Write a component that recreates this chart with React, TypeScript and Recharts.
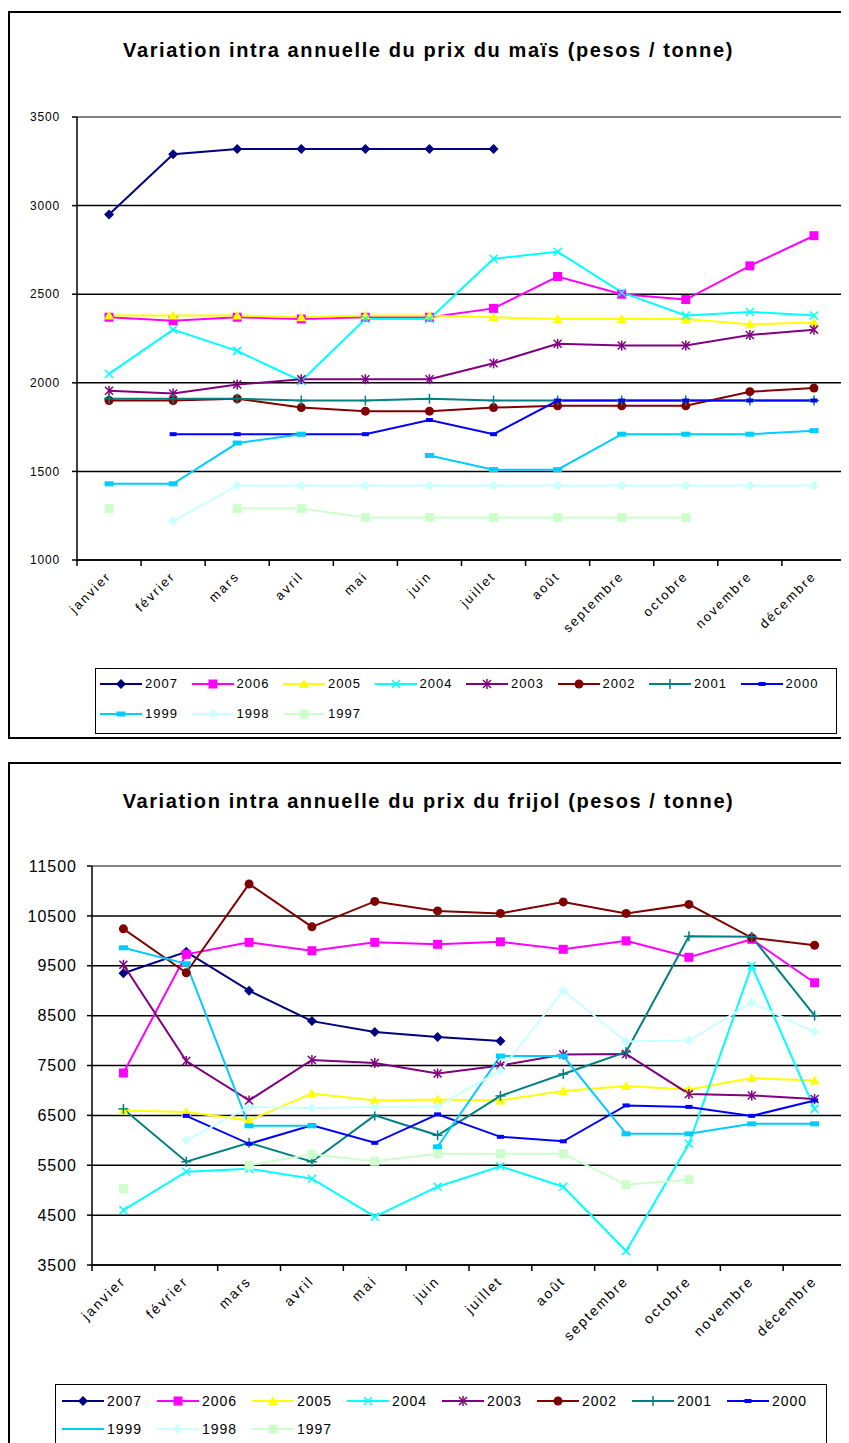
import React from "react";
import {
  LineChart,
  Line,
  XAxis,
  YAxis,
  CartesianGrid,
  ReferenceLine,
} from "recharts";

const mois = [
  "janvier", "février", "mars", "avril", "mai", "juin",
  "juillet", "août", "septembre", "octobre", "novembre", "décembre",
];

const annees = ["2007", "2006", "2005", "2004", "2003", "2002", "2001", "2000", "1999", "1998", "1997"];
const couleurs = ["#000080", "#FF00FF", "#FFFF00", "#00FFFF", "#800080", "#800000", "#008080", "#0000FF", "#00CCFF", "#CCFFFF", "#CCFFCC"];
const formes = ["diamond", "square", "triangle", "x", "star", "circle", "plus", "dash", "bar", "diamond", "square"];

const _ = null;

// maïs, pesos / tonne
const mais2007 = [2950, 3290, 3320, 3320, 3320, 3320, 3320, _, _, _, _, _];
const mais2006 = [2370, 2350, 2370, 2360, 2370, 2370, 2420, 2600, 2500, 2470, 2660, 2830];
const mais2005 = [2380, 2380, 2380, 2370, 2380, 2380, 2370, 2360, 2360, 2360, 2330, 2340];
const mais2004 = [2050, 2300, 2180, 2010, 2360, 2360, 2700, 2740, 2510, 2380, 2400, 2380];
const mais2003 = [1955, 1940, 1990, 2020, 2020, 2020, 2110, 2220, 2210, 2210, 2270, 2300];
const mais2002 = [1900, 1900, 1910, 1860, 1840, 1840, 1860, 1870, 1870, 1870, 1950, 1970];
const mais2001 = [1910, 1910, 1910, 1900, 1900, 1910, 1900, 1900, 1900, 1900, 1900, 1900];
const mais2000 = [_, 1710, 1710, 1710, 1710, 1790, 1710, 1900, 1900, 1900, 1900, 1900];
const mais1999 = [1430, 1430, 1660, 1710, _, 1590, 1510, 1510, 1710, 1710, 1710, 1730];
const mais1998 = [_, 1220, 1420, 1420, 1420, 1420, 1420, 1420, 1420, 1420, 1420, 1420];
const mais1997 = [1290, _, 1290, 1290, 1240, 1240, 1240, 1240, 1240, 1240, _, _];
const maisTicks = [1000, 1500, 2000, 2500, 3000, 3500];

// frijol, pesos / tonne
const frijol2007 = [9350, 9780, 9000, 8390, 8170, 8070, 7990, _, _, _, _, _];
const frijol2006 = [7350, 9730, 9970, 9800, 9970, 9930, 9980, 9830, 10000, 9670, 10030, 9160];
const frijol2005 = [6600, 6570, 6400, 6940, 6800, 6820, 6800, 6990, 7090, 7020, 7250, 7200];
const frijol2004 = [4600, 5370, 5430, 5230, 4470, 5070, 5480, 5070, 3780, 5930, 9500, 6630];
const frijol2003 = [9520, 7590, 6800, 7610, 7550, 7340, 7500, 7720, 7730, 6930, 6900, 6830];
const frijol2002 = [10240, 9360, 11140, 10280, 10790, 10600, 10550, 10780, 10550, 10730, 10060, 9910];
const frijol2001 = [6630, 5570, 5950, 5570, 6500, 6100, 6890, 7330, 7770, 10090, 10080, 8500];
const frijol2000 = [_, 6490, 5930, 6300, 5950, 6520, 6070, 5980, 6700, 6670, 6490, 6800];
const frijol1999 = [9860, 9540, 6290, 6290, _, 5870, 7690, 7690, 6130, 6130, 6330, 6330];
const frijol1998 = [_, 6000, 6670, 6650, 6670, 6680, 7400, 9000, 7980, 8000, 8760, 8170];
const frijol1997 = [5030, _, 5500, 5720, 5580, 5730, 5730, 5730, 5110, 5210, _, _];
const frijolTicks = [3500, 4500, 5500, 6500, 7500, 8500, 9500, 10500, 11500];

const maisSeries = [mais2007, mais2006, mais2005, mais2004, mais2003, mais2002, mais2001, mais2000, mais1999, mais1998, mais1997];
const frijolSeries = [frijol2007, frijol2006, frijol2005, frijol2004, frijol2003, frijol2002, frijol2001, frijol2000, frijol1999, frijol1998, frijol1997];

const FONT = "'Liberation Sans', Arial, sans-serif";

function buildRows(series: (number | null)[][]) {
  return mois.map((m, i) => {
    const row: Record<string, any> = { mois: m };
    annees.forEach((a, k) => {
      row["y" + a] = series[k][i];
    });
    return row;
  });
}

function Marker({ cx, cy, shape, color }: any) {
  if (cx == null || cy == null || isNaN(cy)) return <g />;
  switch (shape) {
    case "diamond":
      return <polygon points={`${cx},${cy - 5} ${cx + 5},${cy} ${cx},${cy + 5} ${cx - 5},${cy}`} fill={color} />;
    case "square":
      return <rect x={cx - 4.5} y={cy - 4.5} width={9} height={9} fill={color} />;
    case "triangle":
      return <polygon points={`${cx},${cy - 5} ${cx + 5},${cy + 4} ${cx - 5},${cy + 4}`} fill={color} />;
    case "x":
      return (
        <g stroke={color} strokeWidth={1.5}>
          <line x1={cx - 4} y1={cy - 4} x2={cx + 4} y2={cy + 4} />
          <line x1={cx - 4} y1={cy + 4} x2={cx + 4} y2={cy - 4} />
        </g>
      );
    case "star":
      return (
        <g stroke={color} strokeWidth={1.5}>
          <line x1={cx - 4} y1={cy - 4} x2={cx + 4} y2={cy + 4} />
          <line x1={cx - 4} y1={cy + 4} x2={cx + 4} y2={cy - 4} />
          <line x1={cx} y1={cy - 5} x2={cx} y2={cy + 5} />
        </g>
      );
    case "circle":
      return <circle cx={cx} cy={cy} r={4.5} fill={color} />;
    case "plus":
      return (
        <g stroke={color} strokeWidth={1.5}>
          <line x1={cx - 5} y1={cy} x2={cx + 5} y2={cy} />
          <line x1={cx} y1={cy - 5} x2={cx} y2={cy + 5} />
        </g>
      );
    case "dash":
      return <rect x={cx - 3.5} y={cy - 2} width={7} height={4} fill={color} />;
    case "bar":
      return <rect x={cx - 4.5} y={cy - 2.5} width={9} height={5} fill={color} />;
    default:
      return <g />;
  }
}

function MonthTick(props: any) {
  const { x, y, payload, index, band, fontSize } = props;
  const half = band / 2;
  return (
    <g>
      <line x1={x - half} x2={x - half} y1={y} y2={y + 6} stroke="#000" strokeWidth={1.5} />
      {index === mois.length - 1 && (
        <line x1={x + half} x2={x + half} y1={y} y2={y + 6} stroke="#000" strokeWidth={1.5} />
      )}
      <text
        x={x + 3}
        y={y + 17}
        transform={`rotate(-45 ${x + 3} ${y + 17})`}
        textAnchor="end"
        fontSize={fontSize}
        fontFamily={FONT}
        letterSpacing={2}
        fill="#000"
      >
        {payload.value}
      </text>
    </g>
  );
}

function Legende({ left, top, width, height, itemWidth, padLeft, rowH, rowTop, fontSize, hideMarker }: any) {
  const rows = [annees.slice(0, 8), annees.slice(8)];
  return (
    <div
      style={{
        position: "absolute",
        left,
        top,
        width,
        height,
        border: "1.5px solid #000",
        boxSizing: "border-box",
        fontFamily: FONT,
        background: "#fff",
      }}
    >
      {rows.map((r, ri) => (
        <div key={ri} style={{ position: "absolute", left: padLeft, top: rowTop + ri * rowH, display: "flex", whiteSpace: "nowrap" }}>
          {r.map((a) => {
            const i = annees.indexOf(a);
            return (
              <div key={a} style={{ width: itemWidth, height: 16, display: "flex", alignItems: "center" }}>
                <svg width={42} height={14} style={{ display: "block" }}>
                  <line x1={0} x2={42} y1={7} y2={7} stroke={couleurs[i]} strokeWidth={2} />
                  {!(hideMarker && hideMarker.includes(a)) && (
                    <Marker cx={21} cy={7} shape={formes[i]} color={couleurs[i]} />
                  )}
                </svg>
                <span style={{ fontSize, marginLeft: 3, letterSpacing: 1, lineHeight: "16px" }}>{a}</span>
              </div>
            );
          })}
        </div>
      ))}
    </div>
  );
}

function Graphique({ series, ticks, titre, cfg }: any) {
  const rows = buildRows(series);
  const plotW = cfg.width - cfg.yWidth - 1;
  const band = plotW / mois.length;
  return (
    <div
      style={{
        position: "relative",
        width: 841,
        height: cfg.frameH,
        border: "2px solid #000",
        boxSizing: "border-box",
        marginTop: cfg.marginTop,
        background: "#fff",
        overflow: "hidden",
      }}
    >
      <div
        style={{
          position: "absolute",
          left: 0,
          right: 0,
          top: cfg.titleTop,
          textAlign: "center",
          fontFamily: FONT,
          fontWeight: "bold",
          fontSize: 20,
          letterSpacing: 1.6,
        }}
      >
        {titre}
      </div>
      <div style={{ position: "absolute", left: 0, top: 0 }}>
        <LineChart
          width={cfg.width}
          height={cfg.height}
          data={rows}
          margin={{ top: cfg.plotTop, right: 1, left: 0, bottom: 0 }}
        >
          <CartesianGrid vertical={false} stroke="#000" strokeWidth={1.5} />
          <ReferenceLine y={ticks[ticks.length - 1]} stroke="#9a9a9a" strokeWidth={1.5} />
          <XAxis
            dataKey="mois"
            interval={0}
            padding={{ left: band / 2, right: band / 2 }}
            tickLine={false}
            tickSize={0}
            tickMargin={0}
            height={cfg.xHeight}
            axisLine={{ stroke: "#000", strokeWidth: 1.5 }}
            tick={<MonthTick band={band} fontSize={cfg.xFont} />}
          />
          <YAxis
            domain={[ticks[0], ticks[ticks.length - 1]]}
            ticks={ticks}
            interval={0}
            width={cfg.yWidth}
            tickSize={5}
            tickMargin={cfg.yMargin}
            axisLine={{ stroke: "#000", strokeWidth: 1.5 }}
            tickLine={{ stroke: "#000", strokeWidth: 1.5 }}
            tick={{ fill: "#000", fontSize: cfg.yFont, fontFamily: FONT, letterSpacing: cfg.ySpacing }}
          />
          {annees.map((a, i) => (
            <Line
              key={a}
              type="linear"
              dataKey={"y" + a}
              name={a}
              stroke={couleurs[i]}
              strokeWidth={2}
              connectNulls={false}
              isAnimationActive={false}
              activeDot={false}
              dot={(p: any) => (
                <Marker key={`${a}-${p.index}`} cx={p.cx} cy={p.value == null ? null : p.cy} shape={formes[i]} color={couleurs[i]} />
              )}
            />
          ))}
        </LineChart>
      </div>
      <Legende {...cfg.legend} />
    </div>
  );
}

const maisCfg = {
  frameH: 728,
  marginTop: 3,
  titleTop: 26,
  width: 837,
  height: 640,
  plotTop: 104,
  yWidth: 67,
  yMargin: 12,
  yFont: 12,
  ySpacing: 0.8,
  xHeight: 93,
  xFont: 13,
  legend: { left: 85, top: 655, width: 742, height: 66, itemWidth: 91.5, padLeft: 4, rowTop: 7, rowH: 30, fontSize: 13 },
};

const frijolCfg = {
  frameH: 700,
  marginTop: 23,
  titleTop: 26,
  width: 837,
  height: 600,
  plotTop: 102,
  yWidth: 82,
  yMargin: 10,
  yFont: 16,
  ySpacing: 1,
  xHeight: 99,
  xFont: 14,
  legend: { left: 45, top: 620, width: 772, height: 80, itemWidth: 95, padLeft: 6, rowTop: 8, rowH: 28, fontSize: 14, hideMarker: ["1999"] },
};

export default function App() {
  return (
    <div style={{ width: 841 }}>
      <Graphique series={maisSeries} ticks={maisTicks} titre="Variation intra annuelle du prix du maïs (pesos / tonne)" cfg={maisCfg} />
      <Graphique series={frijolSeries} ticks={frijolTicks} titre="Variation intra annuelle du prix du frijol (pesos / tonne)" cfg={frijolCfg} />
    </div>
  );
}
